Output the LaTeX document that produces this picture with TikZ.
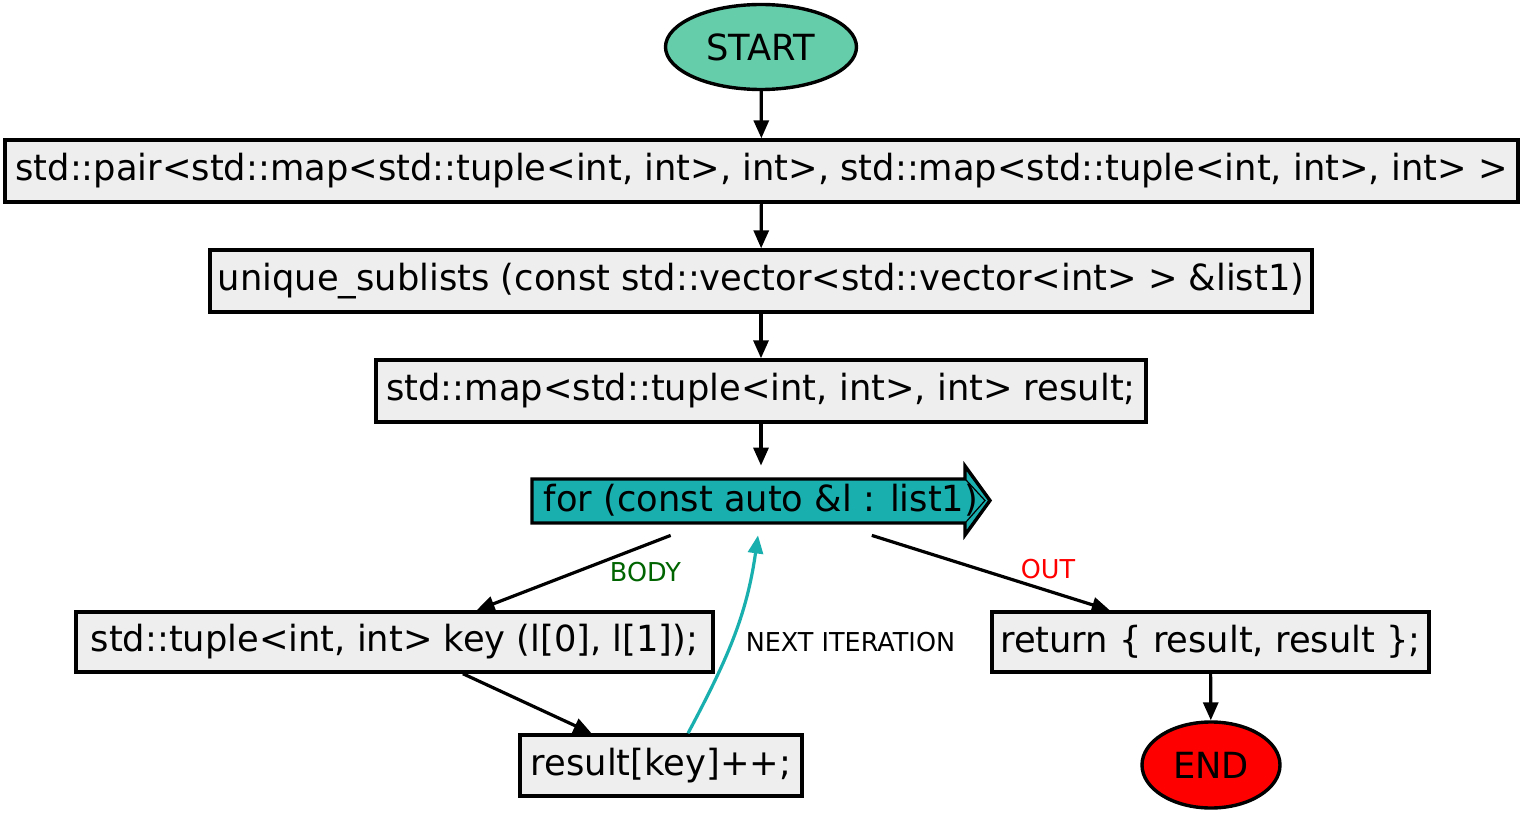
\documentclass[tikz,border=0pt]{standalone}
\usepackage{fontspec}
\setmainfont{DejaVu Sans}[FakeStretch=0.98]
\usetikzlibrary{arrows.meta,shapes.geometric}
\definecolor{startc}{HTML}{66CDAA}
\definecolor{boxc}{HTML}{EEEEEE}
\definecolor{loopc}{HTML}{1AAFAF}
\definecolor{bodyc}{HTML}{006400}
\definecolor{outc}{HTML}{FF0000}
\begin{document}
\begin{tikzpicture}[x=0.5pt,y=-0.5pt,
  every node/.style={font=\fontsize{18}{21}\selectfont, inner sep=0pt},
  stmt/.style={draw, line width=1.7pt, fill=boxc, rectangle},
  term/.style={draw, ellipse, line width=1.7pt},
  flow/.style={line width=1.6pt, -{Triangle[length=9pt,width=7.5pt]}},
  lbl/.style={font=\fontsize{13}{15}\selectfont}]
\useasboundingbox (0,0) rectangle (1523,813);
\node[term, fill=startc, minimum width=95.5pt, minimum height=42.5pt] (start) at (761,47) {START};
\node[stmt, minimum width=756.5pt, minimum height=31pt] (sig) at (761.5,171) {std::pair<std::map<std::tuple<int, int>, int>, std::map<std::tuple<int, int>, int> >};
\node[stmt, minimum width=551pt, minimum height=31pt] (fn) at (761,281) {unique\_sublists (const std::vector<std::vector<int> > \&list1)};
\node[stmt, minimum width=385pt, minimum height=31pt] (decl) at (761,391) {std::map<std::tuple<int, int>, int> result;};
% loop arrow shape
\filldraw[fill=loopc, draw=black, line width=1.7pt, line join=miter]
  (532,479) -- (965,479) -- (965,466) -- (990,500.5) -- (965,535) -- (965,523) -- (532,523) -- cycle;
\draw[line width=0.6pt] (966,480) -- (985,500.5) -- (966,522);
\node[minimum width=229pt, minimum height=34.5pt] (loop) at (761,500.5) {for (const auto \&l : list1)};
\node[stmt, minimum width=318.5pt, minimum height=30pt] (tuple) at (394.5,642) {std::tuple<int, int> key (l[0], l[1]);};
\node[stmt, minimum width=141pt, minimum height=30.5pt] (inc) at (661,765.5) {result[key]++;};
\node[stmt, minimum width=218.5pt, minimum height=30pt] (ret) at (1210.5,642) {return \{ result, result \};};
\node[term, fill=red, minimum width=69pt, minimum height=43pt] (end) at (1211,765) {END};
\draw[flow] (start) -- (sig);
\draw[flow] (sig) -- (fn);
\draw[flow] (fn) -- (decl);
\draw[flow] (decl) -- (loop);
\draw[flow] (loop) -- (tuple) node[lbl, text=bodyc, pos=0.13, below=7.5pt] {BODY};
\draw[flow] (loop) -- (ret) node[lbl, text=outc, pos=0.74, above=5pt] {OUT};
\draw[flow] (tuple) -- (inc);
\draw[flow, draw=loopc, -{Triangle[length=9pt,width=7.5pt,fill=loopc]}] ([xshift=13.5pt]inc.north) to[out=62, in=-98] node[lbl, text=black, pos=0.5, right=5.5pt, yshift=-2pt] {NEXT ITERATION} ([xshift=-1.5pt]loop.south);
\draw[flow] (ret) -- (end);
\end{tikzpicture}
\end{document}
